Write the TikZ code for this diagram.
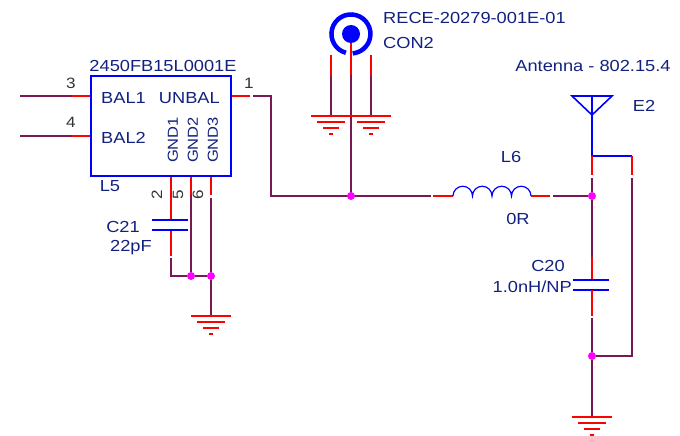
\documentclass[tikz,border=0pt]{standalone}
\usepackage{fontspec}
\setmainfont[FakeStretch=1.14]{Liberation Sans}
\usepackage{tikz}
\usetikzlibrary{positioning}
\definecolor{wirecolour}{rgb}{0.47,0.10,0.33}
\definecolor{pinred}{rgb}{1,0,0}
\definecolor{partblue}{rgb}{0,0,1}
\definecolor{labelblue}{rgb}{0.07,0.13,0.50}
\definecolor{junction}{rgb}{1,0,1}

\begin{document}
\begin{tikzpicture}[x=1pt, y=-1pt,
    wire/.style={draw=wirecolour, line width=1.6pt},
    pin/.style={draw=pinred, line width=1.6pt},
    part/.style={draw=partblue, line width=1.6pt},
    lbl/.style={inner sep=0pt, text=labelblue, font=\fontsize{16}{18}\selectfont},
    gndlbl/.style={lbl, rotate=90, font=\fontsize{14.5}{16}\selectfont},
    pinno/.style={inner sep=0pt, text=black!80, font=\fontsize{15}{17}\selectfont},
    dot/.style={circle, fill=junction, inner sep=0pt, minimum size=8pt},
    gndsym/.pic={
        \draw[pin] (-20,0) -- (20,0);
        \draw[pin] (-14,6) -- (14,6);
        \draw[pin] (-8,12) -- (8,12);
        \draw[pin] (-2,18) -- (2,18);
    }
]
\useasboundingbox (0,0) rectangle (680,436);

% balun
\node[part, fill=white, minimum width=140pt, minimum height=100pt, inner sep=0pt] (balun) at (161,126) {};
\node[lbl] (balunname) at (163,66) {2450FB15L0001E};
\node[lbl, anchor=west] (bal1) at (101,98) {BAL1};
\node[lbl, anchor=west] (bal2) at (101,138) {BAL2};
\node[lbl, anchor=east] (unbal) at (220,98) {UNBAL};
\node[gndlbl] (gnd1) at (173,140) {GND1};
\node[gndlbl] (gnd2) at (193,140) {GND2};
\node[gndlbl] (gnd3) at (213,140) {GND3};
\node[lbl] (l5) at (110,186) {L5};
\node[pinno] (no3) at (71,83) {3};
\node[pinno] (no4) at (71,122) {4};
\node[pinno] (no1) at (249,83) {1};
\node[pinno, rotate=90] (no2) at (157,195) {2};
\node[pinno, rotate=90] (no5) at (178,195) {5};
\node[pinno, rotate=90] (no6) at (198,195) {6};

% balanced side
\coordinate (in3) at (20,96);
\coordinate (in4) at (20,136);
\coordinate (p3) at (72,96);
\coordinate (p4) at (72,136);
\draw[wire] (in3) -- (p3);
\draw[wire] (in4) -- (p4);
\draw[pin] (p3) -- (p3 -| balun.west);
\draw[pin] (p4) -- (p4 -| balun.west);

% unbal output
\coordinate (p1) at (250,96);
\coordinate (w1) at (253,96);
\coordinate (w1b) at (271,196);
\coordinate (conj) at (351,196);
\coordinate (lin) at (431,196);
\draw[pin] (p1 -| balun.east) -- (p1);
\draw[wire] (w1) -| (w1b) -- (conj) -- (lin);

% C21 and grounds
\coordinate (p2a) at (171,220);
\coordinate (p2b) at (171,230);
\coordinate (p2c) at (171,256);
\coordinate (w2) at (171,258);
\coordinate (p5) at (191,195);
\coordinate (p6) at (211,195);
\coordinate (w6) at (211,198);
\coordinate (g1) at (211,316);
\node[dot] (j5) at (191,276) {};
\node[dot] (j6) at (211,276) {};
\draw[pin] (p2a |- balun.south) -- (p2a);
\draw[pin] (p2b) -- (p2c);
\draw[part] (152,220) -- (188,220);
\draw[part] (152,230) -- (188,230);
\draw[pin] (p5 |- balun.south) -- (p5);
\draw[pin] (p6 |- balun.south) -- (p6);
\draw[wire] (w2) |- (j5);
\draw[wire] (p5) -- (j5);
\draw[wire] (j5) -- (j6);
\draw[wire] (w6) -- (j6);
\draw[wire] (j6) -- (g1);
\pic at (g1) {gndsym};
\node[lbl] (c21) at (123,227) {C21};
\node[lbl] (c21val) at (131,248) {22pF};

% connector
\node[circle, fill=partblue, inner sep=0pt, minimum size=18pt] (con) at (351,34) {};
\draw[partblue, line width=4.5pt] (345.9,52.8) arc[start angle=105, end angle=445, radius=19.5];
\coordinate (cpin) at (351,75);
\coordinate (cg1) at (331,116);
\coordinate (cg2) at (371,116);
\coordinate (cp1) at (331,55);
\coordinate (cp1b) at (331,76);
\coordinate (cp2) at (371,55);
\coordinate (cp2b) at (371,76);
\draw[pin] (con) -- (cpin);
\draw[wire] (cpin) -- (conj);
\draw[pin] (cp1) -- (cp1b);
\draw[pin] (cp2) -- (cp2b);
\draw[wire] (cp1b) -- (cg1);
\draw[wire] (cp2b) -- (cg2);
\pic at (cg1) {gndsym};
\pic at (cg2) {gndsym};
\node[dot] (jcon) at (conj) {};
\node[lbl, anchor=west] (conname) at (383,18) {RECE-20279-001E-01};
\node[lbl, anchor=west] (con2) at (383,43) {CON2};

% inductor
\coordinate (lstart) at (453,196);
\coordinate (lend) at (531,196);
\coordinate (lout) at (550,196);
\coordinate (lw) at (553,196);
\node[dot] (jant) at (592,196) {};
\draw[pin] (433,196) -- (lstart);
\draw[part, line width=1.2pt] (lstart) arc[start angle=180, end angle=360, radius=9.75]
    arc[start angle=180, end angle=360, radius=9.75]
    arc[start angle=180, end angle=360, radius=9.75]
    arc[start angle=180, end angle=360, radius=9.75];
\draw[pin] (lend) -- (lout);
\draw[wire] (lw) -- (jant);
\node[lbl] (l6) at (511,157) {L6};
\node[lbl] (l6val) at (518,219) {0R};

% antenna
\coordinate (antl) at (572,96);
\coordinate (antr) at (612,96);
\coordinate (antm) at (592,96);
\coordinate (anta) at (592,115);
\coordinate (antb) at (592,156);
\coordinate (antc) at (632,156);
\coordinate (antd) at (632,175);
\coordinate (ante) at (632,178);
\coordinate (antf) at (592,175);
\coordinate (antg) at (592,178);
\coordinate (c20t) at (592,257);
\coordinate (c20a) at (592,280);
\coordinate (c20b) at (592,290);
\coordinate (c20c) at (592,316);
\coordinate (c20d) at (592,318);
\coordinate (g2) at (592,417);
\node[dot] (jgnd) at (592,356) {};
\draw[part] (antl) -- (antr) -- (anta) -- cycle;
\draw[part] (antm) -- (anta) -- (antb) -- (antc);
\draw[pin] (antb) -- (antf);
\draw[pin] (antc) -- (antd);
\draw[wire] (antg) -- (jant);
\draw[wire] (jant) -- (c20t);
\draw[pin] (c20t) -- (c20a);
\draw[part] (573,280) -- (609,280);
\draw[part] (573,290) -- (609,290);
\draw[pin] (c20b) -- (c20c);
\draw[wire] (c20d) -- (jgnd);
\draw[wire] (jgnd) -- (g2);
\draw[wire] (ante) |- (jgnd);
\pic at (g2) {gndsym};
\node[lbl] (antname) at (593,66) {Antenna - 802.15.4};
\node[lbl] (e2) at (644,106) {E2};
\node[lbl] (c20) at (548,266) {C20};
\node[lbl, anchor=east] (c20val) at (572,287) {1.0nH/NP};

\end{tikzpicture}
\end{document}
